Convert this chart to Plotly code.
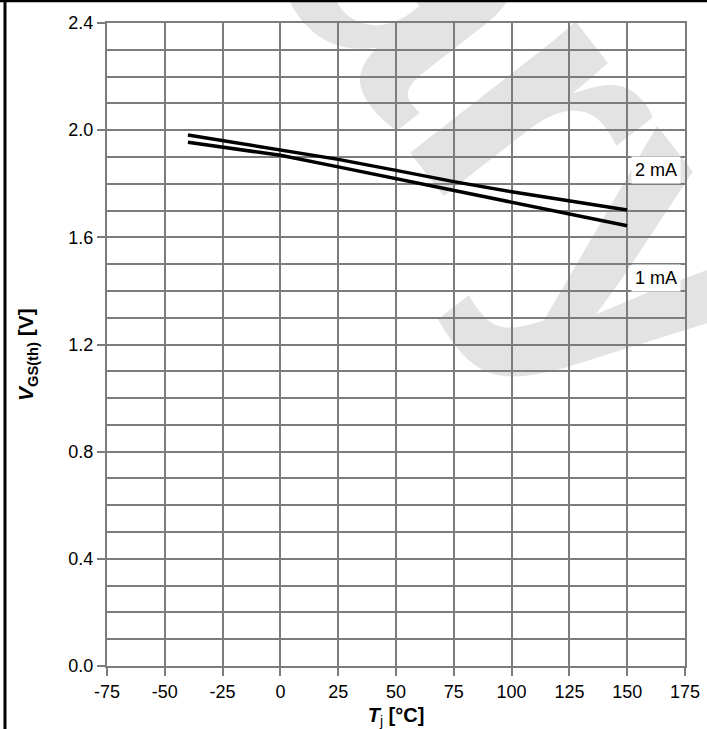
import plotly.graph_objects as go

# Data
tj = [-40, 0, 25, 50, 75, 100, 125, 150]
vgs_2ma = [1.982, 1.926, 1.891, 1.850, 1.808, 1.770, 1.737, 1.702]
vgs_1ma = [1.955, 1.906, 1.863, 1.819, 1.777, 1.730, 1.686, 1.643]
series_names = ["2 mA", "1 mA"]
x_ticks = [-75, -50, -25, 0, 25, 50, 75, 100, 125, 150, 175]
y_ticks = [0.0, 0.4, 0.8, 1.2, 1.6, 2.0, 2.4]

FONT = "Arial, Liberation Sans, sans-serif"
GRID = "#7c7c7c"

fig = go.Figure()
for vals, name in [(vgs_2ma, series_names[0]), (vgs_1ma, series_names[1])]:
    fig.add_trace(go.Scatter(x=tj, y=vals, mode="lines", name=name,
                             line=dict(color="black", width=3.5),
                             showlegend=False))

# curve labels
for txt, yv in [(series_names[0], 1.85), (series_names[1], 1.45)]:
    fig.add_annotation(x=162.5, y=yv, text=txt, showarrow=False,
                       font=dict(family=FONT, size=18, color="black"),
                       bgcolor="white", borderpad=3, xanchor="center", yanchor="middle")

# y axis title placed as an annotation
fig.add_annotation(xref="paper", yref="paper", x=-0.138, y=0.484,
                   text="<b><i>V</i><sub>GS(th)</sub> [V]</b>", textangle=-90,
                   showarrow=False, xanchor="center", yanchor="middle",
                   font=dict(family=FONT, size=21, color="black"))

# watermark (below grid)
fig.add_shape(type="line", xref="paper", yref="paper",
              x0=0.38, y0=0.82, x1=0.64, y1=0.55, layer="below",
              line=dict(color="rgba(0,0,0,0)", width=0),
              label=dict(text="<b>ary</b>", textangle=52, textposition="middle",
                         font=dict(family=FONT, size=400, color="#e3e3e3")))

# page frame lines
fig.add_shape(type="line", xref="paper", yref="paper",
              x0=-0.1765, x1=-0.1765, y0=-0.1, y1=1.04,
              line=dict(color="black", width=3))
fig.add_shape(type="line", xref="paper", yref="paper",
              x0=-0.19, x1=1.04, y0=1.0345, y1=1.0345,
              line=dict(color="black", width=3))

fig.update_xaxes(range=[-75, 175], tickvals=x_ticks,
                 ticktext=[str(v) for v in x_ticks], automargin=False,
                 showgrid=True, gridcolor=GRID, gridwidth=2,
                 showline=True, linecolor=GRID, linewidth=2, mirror=True,
                 ticks="outside", ticklen=8, tickwidth=2, tickcolor=GRID,
                 zeroline=False,
                 tickfont=dict(family=FONT, size=18, color="black"),
                 title=dict(text="<b><i>T</i></b><sub>j</sub><b> [°C]</b>",
                            font=dict(family=FONT, size=20, color="black"),
                            standoff=8))
fig.update_yaxes(range=[0, 2.4], tickvals=y_ticks,
                 ticktext=[f"{v:.1f}" for v in y_ticks], automargin=False,
                 showgrid=True, gridcolor=GRID, gridwidth=2,
                 minor=dict(dtick=0.1, showgrid=True, gridcolor=GRID, gridwidth=2, ticks=""),
                 showline=True, linecolor=GRID, linewidth=2, mirror=True,
                 ticks="outside", ticklen=8, tickwidth=2, tickcolor=GRID,
                 zeroline=False,
                 tickfont=dict(family=FONT, size=18, color="black"))

fig.update_layout(width=707, height=729,
                  margin=dict(l=107, r=22, t=23, b=63),
                  paper_bgcolor="white", plot_bgcolor="rgba(0,0,0,0)",
                  font=dict(family=FONT, color="black"))

fig.write_html("out.html")
